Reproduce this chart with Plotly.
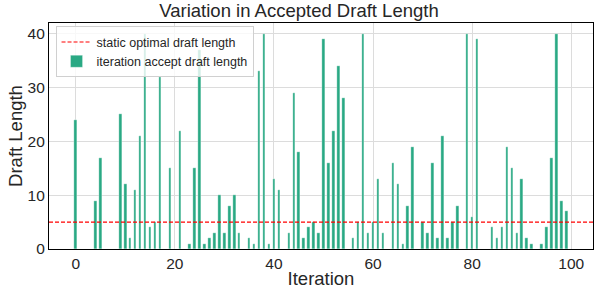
import plotly.graph_objects as go

iterations = list(range(100))
accept_lengths = [24, 0, 0, 0, 9, 17, 0, 0, 0, 25,
                  12, 2, 11, 21, 40, 4, 5, 32, 0, 15,
                  0, 22, 0, 1, 15, 37, 1, 2, 3, 10,
                  3, 8, 10, 3, 0, 2, 1, 33, 40, 1,
                  13, 11, 0, 3, 29, 18, 2, 4, 5, 3,
                  39, 16, 22, 34, 28, 0, 2, 5, 40, 3,
                  5, 13, 3, 0, 16, 12, 1, 8, 19, 0,
                  5, 3, 16, 2, 21, 2, 5, 8, 0, 40,
                  6, 39, 0, 0, 4, 2, 4, 19, 15, 3,
                  13, 2, 1, 0, 1, 4, 17, 40, 9, 7]
static_optimal = 5
x_range = [-5.39, 104.39]
y_range = [0, 42]

FONT = "Arial, Liberation Sans, sans-serif"
GREEN = "#2aa984"

fig = go.Figure()
fig.add_trace(go.Scatter(
    x=x_range, y=[static_optimal, static_optimal], mode="lines",
    line=dict(color="red", dash="4px,2px", width=1.2),
    name="static optimal draft length"))
fig.add_trace(go.Bar(
    x=iterations, y=accept_lengths, width=0.5,
    marker=dict(color=GREEN, line=dict(color="white", width=0.3)),
    name="iteration accept draft length"))

fig.update_layout(
    width=598, height=295,
    margin=dict(l=49, r=5, t=23, b=46, pad=0, autoexpand=False),
    plot_bgcolor="white", paper_bgcolor="white",
    font=dict(family=FONT, color="#262626", size=15.5),
    title=dict(text="Variation in Accepted Draft Length", x=0.5, xanchor="center",
               y=0.985, yanchor="top", font=dict(size=18.5, color="#262626")),
    showlegend=True,
    legend=dict(x=0.012, y=0.985, xanchor="left", yanchor="top",
                bgcolor="rgba(255,255,255,0.8)", bordercolor="#d0d0d0", borderwidth=1,
                font=dict(size=12.5, color="#262626"), tracegroupgap=0,
                itemwidth=30),
    bargap=0,
)
fig.update_xaxes(range=x_range, tickvals=[0, 20, 40, 60, 80, 100],
                 showgrid=True, gridcolor="#dcdcdc", gridwidth=1,
                 showline=True, linecolor="black", linewidth=1.2, mirror=True,
                 ticks="", zeroline=False, automargin=False,
                 title=dict(text="Iteration", font=dict(size=18.5), standoff=1))
fig.update_yaxes(range=y_range, tickvals=[0, 10, 20, 30, 40],
                 showgrid=True, gridcolor="#dcdcdc", gridwidth=1,
                 showline=True, linecolor="black", linewidth=1.2, mirror=True,
                 ticks="", zeroline=False, automargin=False,
                 title=dict(text="Draft Length", font=dict(size=18.5), standoff=0))

fig.write_html("out.html", config={"displayModeBar": False},
               post_script="document.body.style.margin='0';")
